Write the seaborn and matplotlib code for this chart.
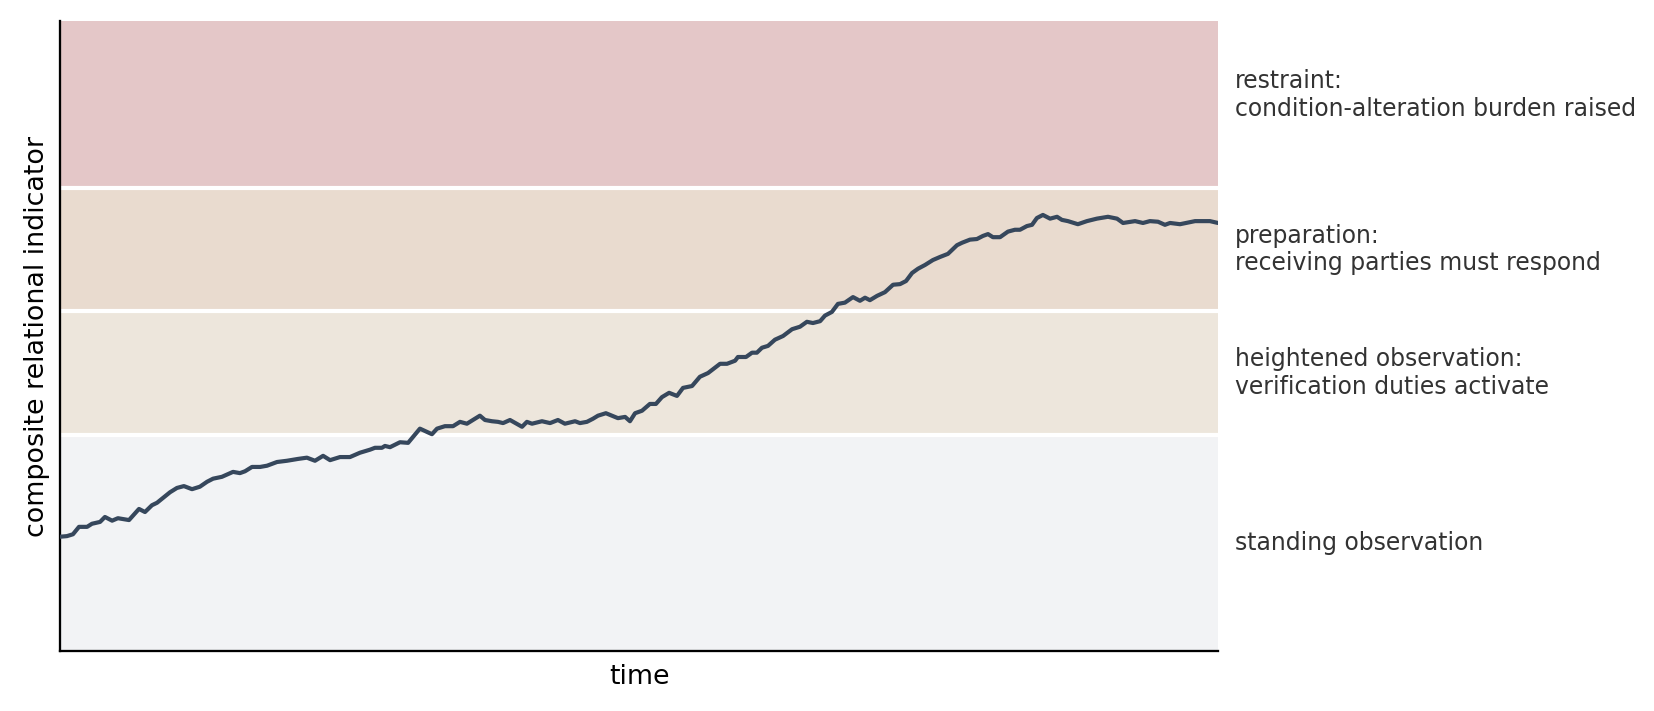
import matplotlib
matplotlib.use("Agg")
import matplotlib.pyplot as plt
import matplotlib.transforms as mtransforms
import seaborn as sns
import pandas as pd

# composite indicator
time = [
    0.0, 3.0, 5.6, 8.2, 11.7, 13.8, 17.3, 19.4, 22.5, 25.0, 29.8, 34.1, 36.7, 39.7,
    41.9, 44.5, 47.5, 50.5, 53.5, 57.0, 60.4, 63.5, 66.1, 69.9, 74.7, 77.7, 79.9,
    82.9, 86.4, 89.4, 93.7, 98.0, 102.8, 106.6, 110.1, 113.6, 116.6, 120.9, 125.2,
    129.5, 133.9, 136.0, 139.0, 140.3, 142.5, 146.8, 150.3, 155.4, 160.6, 162.8,
    166.2, 169.7, 172.7, 175.7, 178.3, 181.3, 183.5, 186.5, 189.1, 191.3, 194.3,
    199.5, 201.6, 203.8, 208.1, 211.6, 215.0, 218.0, 222.4, 224.5, 227.5, 230.1,
    232.3, 235.7, 238.3, 240.9, 244.0, 246.1, 248.3, 251.3, 254.7, 257.3, 259.9,
    263.0, 266.4, 269.0, 272.9, 276.3, 279.8, 285.0, 288.0, 291.5, 292.7, 296.2,
    298.8, 300.9, 303.1, 305.7, 308.7, 312.2, 316.1, 319.5, 322.5, 325.1, 328.2,
    330.3, 333.3, 335.9, 338.9, 342.4, 345.4, 347.6, 349.7, 352.8, 356.2, 359.7,
    362.7, 365.3, 367.9, 370.5, 373.5, 376.9, 380.0, 383.4, 387.3, 389.5, 392.9,
    395.9, 398.5, 400.7, 402.8, 405.9, 409.3, 412.3, 414.5, 417.5, 419.7, 421.8,
    424.4, 427.5, 430.5, 432.6, 435.2, 439.5, 443.4, 447.7, 452.5, 456.4, 459.0,
    464.2, 467.6, 470.6, 474.1, 477.1, 479.3, 483.6, 490.1, 496.5, 500.0,
]
indicator = [
    0.185, 0.186, 0.189, 0.201, 0.201, 0.206, 0.209, 0.217, 0.211, 0.215, 0.212,
    0.230, 0.225, 0.236, 0.240, 0.248, 0.257, 0.264, 0.267, 0.262, 0.266, 0.274,
    0.279, 0.282, 0.290, 0.288, 0.291, 0.298, 0.298, 0.300, 0.306, 0.308, 0.311,
    0.313, 0.308, 0.316, 0.309, 0.314, 0.314, 0.321, 0.326, 0.329, 0.329, 0.332,
    0.330, 0.338, 0.337, 0.360, 0.351, 0.360, 0.364, 0.364, 0.371, 0.368, 0.374,
    0.381, 0.374, 0.372, 0.371, 0.369, 0.374, 0.363, 0.371, 0.368, 0.372, 0.369,
    0.374, 0.368, 0.372, 0.369, 0.371, 0.376, 0.381, 0.385, 0.381, 0.377, 0.379,
    0.372, 0.385, 0.389, 0.400, 0.400, 0.411, 0.418, 0.413, 0.426, 0.429, 0.444,
    0.450, 0.465, 0.465, 0.470, 0.476, 0.476, 0.483, 0.483, 0.491, 0.494, 0.504,
    0.510, 0.521, 0.525, 0.533, 0.531, 0.534, 0.543, 0.549, 0.562, 0.564, 0.573,
    0.567, 0.572, 0.568, 0.575, 0.581, 0.593, 0.594, 0.599, 0.612, 0.619, 0.625,
    0.633, 0.638, 0.643, 0.657, 0.661, 0.666, 0.667, 0.672, 0.675, 0.670, 0.670,
    0.679, 0.682, 0.682, 0.688, 0.690, 0.701, 0.706, 0.700, 0.703, 0.698, 0.696,
    0.691, 0.696, 0.700, 0.703, 0.700, 0.693, 0.696, 0.693, 0.696, 0.695, 0.690,
    0.693, 0.691, 0.696, 0.696, 0.693,
]

# regime bands (lower, upper) and their labels
band_lower = [0.0, 0.35, 0.55, 0.75]
band_upper = [0.35, 0.55, 0.75, 1.05]
band_labels = [
    "standing observation",
    "heightened observation:\nverification duties activate",
    "preparation:\nreceiving parties must respond",
    "restraint:\ncondition-alteration burden raised",
]
band_colors = ["#f2f3f5", "#ede6dc", "#e9dbcf", "#e4c7c8"]

df = pd.DataFrame({"time": time, "indicator": indicator})

sns.set_theme(style="white")
plt.rcParams["font.family"] = ["DejaVu Sans"]

fig, ax = plt.subplots(figsize=(1654 / 150, 711 / 150), dpi=150)
fig.subplots_adjust(left=60 / 1654, right=1218 / 1654, bottom=1 - 651 / 711, top=1 - 21 / 711)

# background bands
for lo, hi, col in zip(band_lower, band_upper, band_colors):
    ax.axhspan(lo, hi, color=col, lw=0, zorder=0)
for lo in band_lower[1:]:
    ax.axhline(lo, color="white", lw=2, zorder=1)

sns.lineplot(data=df, x="time", y="indicator", color="#36475c", lw=2.0, ax=ax, zorder=3)

# labels to the right of the plot, centred on each band
trans = mtransforms.blended_transform_factory(ax.transAxes, ax.transData)
for lo, hi, lab in zip(band_lower, band_upper, band_labels):
    ax.text(1.0147, (lo + hi) / 2, lab, transform=trans, ha="left", va="center",
            fontsize=11.3, color="#333333", linespacing=1.2)

ax.set_xlim(min(time), max(time))
ax.set_ylim(0, 1.02)
ax.set_xticks([])
ax.set_yticks([])
ax.set_xlabel("time", fontsize=12.9, color="black", labelpad=6)
ax.set_ylabel("composite relational indicator", fontsize=12.9, color="black", labelpad=5)
sns.despine(ax=ax)
for side in ["left", "bottom"]:
    ax.spines[side].set_color("black")
    ax.spines[side].set_linewidth(1.1)

fig.savefig("out.png", dpi=150)
